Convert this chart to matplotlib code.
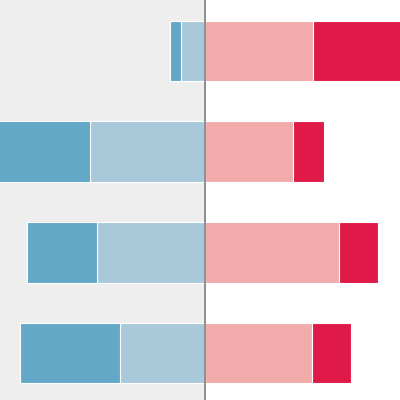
import matplotlib
matplotlib.use("Agg")
from matplotlib import pyplot as plt
import numpy as np

rows = ["A", "B", "C", "D"]
strong_neg = [5.5, 46, 35, 50]
neg = [12, 57.5, 54, 42.5]
pos = [54, 44, 67, 53.5]
strong_pos = [45, 15.5, 19.5, 19.5]

c_strong_neg = "#63a8c7"
c_neg = "#a9c9db"
c_pos = "#f2abab"
c_strong_pos = "#e01a48"

y = np.arange(len(rows))
neg_a = np.array(neg)
sneg_a = np.array(strong_neg)
pos_a = np.array(pos)

fig = plt.figure(figsize=(4, 4), dpi=100)
ax = fig.add_axes([0, 0, 1, 1])
ax.set_xlim(-102.5, 97.5)
ax.set_ylim(3.467, -0.507)
ax.axvspan(-102.5, 0, color="#efeeef", zorder=0)

kw = dict(height=0.6, edgecolor="white", linewidth=0.8, zorder=2)
ax.barh(y, -neg_a, left=0, color=c_neg, **kw)
ax.barh(y, -sneg_a, left=-neg_a, color=c_strong_neg, **kw)
ax.barh(y, pos_a, left=0, color=c_pos, **kw)
ax.barh(y, strong_pos, left=pos_a, color=c_strong_pos, **kw)

ax.axvline(0, color="#888888", linewidth=1.3, zorder=3)
ax.axis("off")

fig.savefig("out.png", dpi=100)
